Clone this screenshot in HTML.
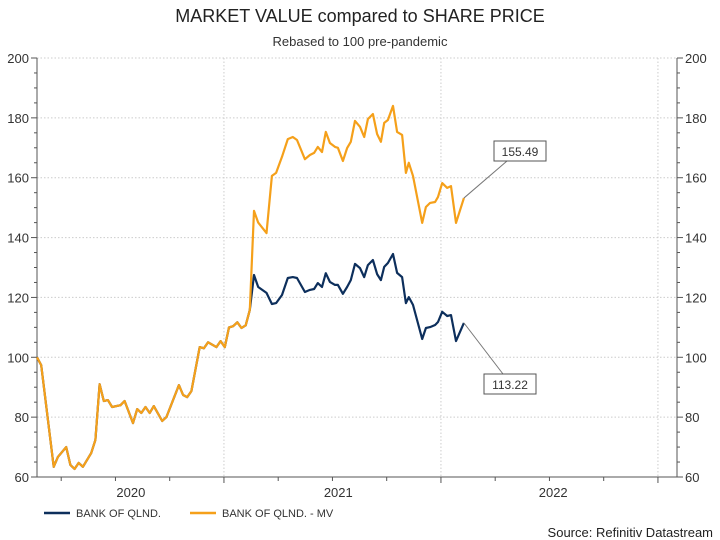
<!DOCTYPE html>
<html><head><meta charset="utf-8"><style>
html,body{margin:0;padding:0;background:#fff;}
svg{display:block;font-family:"Liberation Sans",sans-serif;}
</style></head><body>
<svg id="chart" width="720" height="540" viewBox="0 0 720 540" xmlns="http://www.w3.org/2000/svg">
<text x="360" y="22" text-anchor="middle" font-size="18" fill="#222">MARKET VALUE compared to SHARE PRICE</text>
<text x="360" y="46" text-anchor="middle" font-size="13" fill="#333">Rebased to 100 pre-pandemic</text>
<g id="grid"></g><g id="axes"></g><g id="series"></g><g id="labels"></g>
<g>
<line x1="44" y1="513" x2="70" y2="513" stroke="#0d2f5c" stroke-width="2.5"/>
<text x="76" y="517" font-size="11" fill="#333">BANK OF QLND.</text>
<line x1="190" y1="513" x2="216" y2="513" stroke="#f5a01a" stroke-width="2.5"/>
<text x="222" y="517" font-size="11" fill="#333">BANK OF QLND. - MV</text>
</g>
<text x="713" y="537" text-anchor="end" font-size="13" fill="#222">Source: Refinitiv Datastream</text>
</svg>
<script>
const commonWeeks=[0,1,4,5,7,8,9,10,11,13,14,15,16,17,18,20,21,23,24,25,26,27,28,30,31,34,35,36,37,39,40,41,43,44,45,46,47,48,49,50,51];
const commonVals=[100,97.4,63.4,66.7,70,64,62.7,64.7,63.4,68,72.4,91,85.4,85.7,83.4,84,85.4,78,82.7,81.4,83.4,81.4,83.7,78.7,80,90.7,87.4,86.7,88.7,103.4,103,105,103.4,105.4,103.4,110,110.4,111.7,109.8,110.7,115.8];
const lateWeeks=[52,53,55,56.3,57.3,58.7,60.1,61.3,62.3,64.2,65.4,66.4,67.3,68.3,69.2,70.2,71.4,72.1,73.3,74.3,75.2,76.2,77.4,78.4,79.3,80.5,81.5,82.4,83.2,84.1,85.3,86.3,87.5,88.4,89.1,90.1,92.3,93.2,94.2,95.4,96.1,97.1,98.3,99.2,100.4,102.3];
const mvLate=[148.9,145,141.5,160.6,161.6,167,172.9,173.6,172.6,166.2,167.6,168.3,170.3,168.6,175.3,171.6,170.3,170,165.6,169.9,172,179,177,173.6,179.6,181.3,174.6,172,178.3,179.3,184,175.3,174.3,161.6,165,160.6,144.9,150.2,151.6,151.9,153.6,158.2,156.6,157.2,144.9,153.2];
const priceLate=[127.5,123.5,121.5,117.8,118.1,120.8,126.5,126.8,126.5,121.8,122.5,122.8,124.8,123.5,128.1,125.2,124.2,124.2,121.2,123.5,125.8,131.2,129.8,126.8,130.8,132.5,127.8,125.8,130.2,131.5,134.5,128.2,126.8,118.1,120.1,117.5,106.1,109.8,110.1,110.8,111.8,115.2,113.8,114.1,105.4,111.5];
const yTicks=[60,80,100,120,140,160,180,200];
const yearGridWeeks=[44.8,96.8,148.8];
const yearLabels=["2020","2021","2022"];
const yearLabelWeeks=[22.5,72.2,123.7];
const lastLabels=["155.49","113.22"];

const X0=37,X1=677,Y0=477,Y1=58;
const xs=w=>X0+w*4.173;
const ys=v=>Y0-(v-60)*(Y0-Y1)/140;
const NS="http://www.w3.org/2000/svg";
function mk(tag,attrs,parent){const e=document.createElementNS(NS,tag);for(const k in attrs)e.setAttribute(k,attrs[k]);parent.appendChild(e);return e;}
const grid=document.getElementById('grid'),axes=document.getElementById('axes'),series=document.getElementById('series'),labels=document.getElementById('labels');

yTicks.forEach(v=>{
  if(v>60){const g=mk('line',{x1:X0,x2:X1,y1:ys(v),y2:ys(v),stroke:'#ccc','stroke-dasharray':'1.5,2'},grid);
  
  }
  const l=mk('text',{x:X0-8,y:ys(v)+5,'text-anchor':'end','font-size':13,fill:'#333'},axes);l.textContent=v;
  
  
  const r=mk('text',{x:X1+8,y:ys(v)+5,'font-size':13,fill:'#333'},axes);r.textContent=v;
  
  
});
for(let v=60;v<=200;v+=5){
  const len=v%20===0?6:3;
  mk('line',{x1:X0-len,x2:X0,y1:ys(v),y2:ys(v),stroke:'#555'},axes);
  mk('line',{x1:X1,x2:X1+len,y1:ys(v),y2:ys(v),stroke:'#555'},axes);
}
yearGridWeeks.forEach(w=>{
  const g=mk('line',{x1:xs(w),x2:xs(w),y1:Y1,y2:Y0,stroke:'#ccc','stroke-dasharray':'1.5,2'},grid);
  
  
});
for(let k=-3;k<=9;k++){
  const w=44.8+k*13;if(xs(w)<X0+5||xs(w)>X1)continue;
  const len=k%4===0?6:4;
  mk('line',{x1:xs(w),x2:xs(w),y1:Y0,y2:Y0+len,stroke:'#555'},axes);
}
yearLabels.forEach((t,i)=>{
  const l=mk('text',{x:xs(yearLabelWeeks[i]),y:Y0+20,'text-anchor':'middle','font-size':13,fill:'#333'},axes);l.textContent=t;
  
  
});
mk('line',{x1:X0,x2:X0,y1:Y1,y2:Y0,stroke:'#555'},axes);
mk('line',{x1:X1,x2:X1,y1:Y1,y2:Y0,stroke:'#555'},axes);
mk('line',{x1:X0,x2:X1,y1:Y0,y2:Y0,stroke:'#555'},axes);

function path(ws,vs){return ws.map((w,i)=>(i?'L':'M')+xs(w).toFixed(1)+','+ys(vs[i]).toFixed(1)).join('');}
const pw=commonWeeks.concat(lateWeeks);
const pp=path(pw,commonVals.concat(priceLate));
const pm=path(pw,commonVals.concat(mvLate));
const a=mk('path',{d:pp,fill:'none',stroke:'#0d2f5c','stroke-width':2.2,'stroke-linejoin':'round'},series);


const b=mk('path',{d:pm,fill:'none',stroke:'#f5a01a','stroke-width':2.2,'stroke-linejoin':'round'},series);



const lw=lateWeeks[lateWeeks.length-1];
const ends=[[mvLate[mvLate.length-1],494,141,52,20,507,161],[priceLate[priceLate.length-1],484,374,52,20,503,374]];
ends.forEach((e,i)=>{
  mk('line',{x1:xs(lw),y1:ys(e[0]),x2:e[5],y2:e[6],stroke:'#777'},labels);
  const r=mk('rect',{x:e[1],y:e[2],width:e[3],height:e[4],fill:'#fff',stroke:'#555'},labels);
  
  
  const t=mk('text',{x:e[1]+e[3]/2,y:e[2]+15,'text-anchor':'middle','font-size':12,fill:'#333'},labels);t.textContent=lastLabels[i];
  
  
});
</script>
</body></html>
